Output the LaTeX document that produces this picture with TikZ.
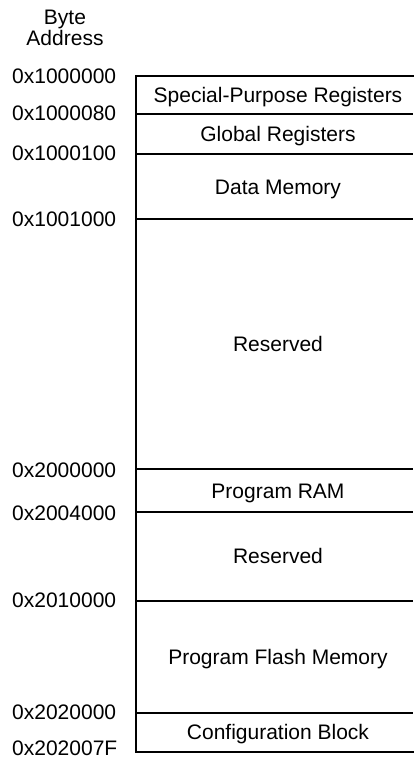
\documentclass[tikz,border=0pt]{standalone}
\usepackage{fontspec}
\setmainfont{Liberation Sans}
\begin{document}
\begin{tikzpicture}[x=1pt,y=-1pt,
  txt/.style={inner sep=0pt,font=\fontsize{21}{22}\selectfont,anchor=base},
  addr/.style={txt,anchor=base west},
  divider/.style={line width=2pt},
  frame/.style={line width=2pt,line cap=rect}]
\useasboundingbox[fill=white] (0,0) rectangle (413,761);
% header
\node[txt] (hb) at (65,24) {Byte};
\node[txt] (ha) at (65,45.7) {Address};
% boundary coordinates
\def\xl{136}
\def\xr{413}
\foreach \n/\y in {a/76,b/114,c/154,d/219,e/469,f/512,g/600.5,h/712.5,i/752}{
  \coordinate (L\n) at (\xl,\y);
  \coordinate (R\n) at (\xr,\y);
}
% frame and dividers
\draw[frame] (Ra) -- (La) -- (Li) -- (Ri);
\foreach \n in {b,c,d,e,f,g,h}{
  \draw[divider] (L\n) -- (R\n);
}
% region labels
\node[txt] (spr) at (278,102.5) {Special-Purpose Registers};
\node[txt] (gr) at (278,141.5) {Global Registers};
\node[txt] (dm) at (278,194) {Data Memory};
\node[txt] (rs1) at (278,351.5) {Reserved};
\node[txt] (pr) at (278,498) {Program RAM};
\node[txt] (rs2) at (278,563) {Reserved};
\node[txt] (pfm) at (278,664) {Program Flash Memory};
\node[txt] (cb) at (278,739.5) {Configuration Block};
% addresses
\node[addr] (a1) at (12,83.5) {0x1000000};
\node[addr] (a2) at (12,120) {0x1000080};
\node[addr] (a3) at (12,160) {0x1000100};
\node[addr] (a4) at (12,226.5) {0x1001000};
\node[addr] (a5) at (12,477.5) {0x2000000};
\node[addr] (a6) at (12,520) {0x2004000};
\node[addr] (a7) at (12,607.5) {0x2010000};
\node[addr] (a8) at (12,719.5) {0x2020000};
\node[addr] (a9) at (12,755.5) {0x202007F};
\end{tikzpicture}
\end{document}
